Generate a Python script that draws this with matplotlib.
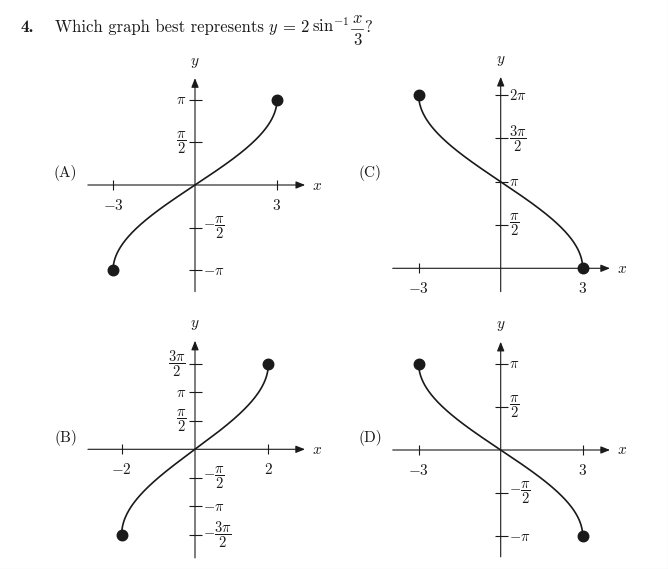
import numpy as np
import matplotlib
matplotlib.use("Agg")
import matplotlib.pyplot as plt
from matplotlib.lines import Line2D

plt.rcParams['mathtext.fontset'] = 'cm'

W, H = 668, 569
INK = '#1a1a1a'
PI = np.pi

# the four answer graphs: y = y_scale * asin(x / x_half) + y_shift
panels = ['A', 'B', 'C', 'D']
x_half = [3, 2, 3, 3]
y_scale = [2, 3, -2, -2]
y_shift = [0, 0, PI, 0]

x_ticks = [[-3, 3], [-2, 2], [-3, 3], [-3, 3]]
x_tick_labels = [[r'$-3$', r'$3$'], [r'$-2$', r'$2$'],
                 [r'$-3$', r'$3$'], [r'$-3$', r'$3$']]

y_ticks = [
    [-PI, -PI / 2, PI / 2, PI],
    [-3 * PI / 2, -PI, -PI / 2, PI / 2, PI, 3 * PI / 2],
    [PI / 2, PI, 3 * PI / 2, 2 * PI],
    [-PI, -PI / 2, PI / 2, PI],
]
y_tick_labels = [
    [r'$-\pi$', r'$-\dfrac{\pi}{2}$', r'$\dfrac{\pi}{2}$', r'$\pi$'],
    [r'$-\dfrac{3\pi}{2}$', r'$-\pi$', r'$-\dfrac{\pi}{2}$',
     r'$\dfrac{\pi}{2}$', r'$\pi$', r'$\dfrac{3\pi}{2}$'],
    [r'$\dfrac{\pi}{2}$', r'$\pi$', r'$\dfrac{3\pi}{2}$', r'$2\pi$'],
    [r'$-\pi$', r'$-\dfrac{\pi}{2}$', r'$\dfrac{\pi}{2}$', r'$\pi$'],
]
# which side of the y axis each label sits on
y_label_side = [
    ['r', 'r', 'l', 'l'],
    ['r', 'r', 'r', 'l', 'l', 'l'],
    ['r', 'r', 'r', 'r'],
    ['r', 'r', 'r', 'r'],
]

# layout: origin in pixels, pixels per unit, axis extents in data units
origin_px = [(195, 185), (195, 449.3), (500.7, 268.3), (500.7, 450)]
scale_px = [(27.33, 27.2), (36.67, 18.1), (27.33, 27.55), (27.33, 27.4)]
x_extent = [(-3.92, 4.03), (-2.92, 3.0), (-3.95, 4.0), (-3.95, 4.0)]
y_extent = [(-3.92, 3.93), (-6.0, 6.0), (-0.85, 6.95), (-3.9, 3.95)]
letter_px = [(77, 173), (77, 438), (382, 173), (382, 438)]

# question line, piece by piece (text, left edge in px, baseline in px)
question_baseline = 32.3
question = [
    ('Which graph best represents', 55, question_baseline),
    (r'$y$', 267.5, question_baseline),
    ('=', 282, question_baseline),
    ('2', 300, question_baseline),
    (r'$\sin^{-1}$', 312, question_baseline),
    (r'$x$', 352.5, 22.7),   # display fraction x/3
    ('3', 353.5, 45),
    ('?', 364, question_baseline),
]
fraction_bar_px = (351, 363, 29.3)

fig = plt.figure(figsize=(W / 100, H / 100), dpi=100)


def px(x, y):
    return x / W, 1 - y / H


def pt(p):
    return p * 0.72


for i, name in enumerate(panels):
    (ox, oy), (sx, sy) = origin_px[i], scale_px[i]
    xl, yl = x_extent[i], y_extent[i]
    left = (ox + xl[0] * sx) / W
    bottom = 1 - (oy - yl[0] * sy) / H
    ax = fig.add_axes([left, bottom, (xl[1] - xl[0]) * sx / W,
                       (yl[1] - yl[0]) * sy / H])
    ax.set_xlim(xl)
    ax.set_ylim(yl)
    ax.axis('off')

    arrow = dict(arrowstyle='-|>,head_length=0.55,head_width=0.22',
                 lw=0.8, color=INK, shrinkA=0, shrinkB=0, mutation_scale=10)
    ax.annotate('', xy=(xl[1], 0), xytext=(xl[0], 0), arrowprops=arrow,
                annotation_clip=False)
    ax.annotate('', xy=(0, yl[1]), xytext=(0, yl[0]), arrowprops=arrow,
                annotation_clip=False)

    # ticks
    ax.plot(x_ticks[i], [0] * len(x_ticks[i]), ls='none', marker='|',
            ms=pt(10), mew=0.8, color=INK, clip_on=False)
    ax.plot([0] * len(y_ticks[i]), y_ticks[i], ls='none', marker='_',
            ms=pt(13), mew=0.8, color=INK, clip_on=False)

    for xv, lab in zip(x_ticks[i], x_tick_labels[i]):
        ax.annotate(lab, (xv, 0), xytext=(0, -pt(13)), textcoords='offset points',
                    ha='center', va='top', fontsize=11, color=INK)
    for yv, lab, side in zip(y_ticks[i], y_tick_labels[i], y_label_side[i]):
        dx = pt(8) if side == 'r' else -pt(9)
        ax.annotate(lab, (0, yv), xytext=(dx, 0), textcoords='offset points',
                    ha='left' if side == 'r' else 'right', va='center',
                    fontsize=10.5, color=INK)

    ax.annotate(r'$x$', (xl[1], 0), xytext=(pt(7), 0), textcoords='offset points',
                ha='left', va='center', fontsize=11, color=INK)
    ax.annotate(r'$y$', (0, yl[1]), xytext=(0, pt(16)), textcoords='offset points',
                ha='center', va='center', fontsize=11, color=INK)

    # the curve, parametrised by the angle so the vertical ends stay smooth
    t = np.linspace(-PI / 2, PI / 2, 400)
    ax.plot(x_half[i] * np.sin(t), y_scale[i] * t + y_shift[i],
            color=INK, lw=1.2, clip_on=False, solid_capstyle='round')
    ends_x = [-x_half[i], x_half[i]]
    ends_y = [-y_scale[i] * PI / 2 + y_shift[i], y_scale[i] * PI / 2 + y_shift[i]]
    ax.plot(ends_x, ends_y, ls='none', marker='o', ms=pt(10.5), color=INK,
            clip_on=False, zorder=5)

    fig.text(*px(*letter_px[i]), '(%s)' % name, family='cmr10', fontsize=11,
             ha='right', va='center', color=INK)

fig.text(*px(20.7, question_baseline), '4.', family='cmb10', fontsize=12.5,
         ha='left', va='baseline', color=INK)
for txt, x0, base in question:
    fig.text(*px(x0, base), txt, family='cmr10', fontsize=12,
             ha='left', va='baseline', color=INK)
bx0, bx1, by = fraction_bar_px
fig.add_artist(Line2D([bx0 / W, bx1 / W], [1 - by / H, 1 - by / H], color=INK,
                      lw=0.5, transform=fig.transFigure))

# thin grey frame on the right and bottom edges of the page clip
fig.add_artist(Line2D([667.5 / W, 667.5 / W], [1 - 568.5 / H, 1], color='#d6d6d6',
                      lw=0.8, transform=fig.transFigure))
fig.add_artist(Line2D([0, 667.5 / W], [1 - 568.5 / H, 1 - 568.5 / H], color='#d6d6d6',
                      lw=0.8, transform=fig.transFigure))

fig.savefig('out.png', dpi=100)
